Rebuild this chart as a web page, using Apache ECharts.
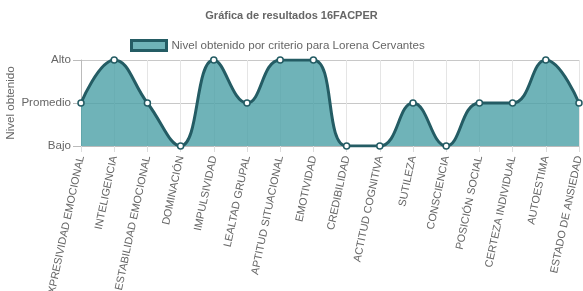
<!DOCTYPE html>
<html><head><meta charset="utf-8">
<script src="https://cdn.jsdelivr.net/npm/echarts@6/dist/echarts.min.js"></script>
<style>html,body{margin:0;padding:0;background:#fff}#c{width:583px;height:291px}</style>
</head><body><div id="c"></div>
<script>
const categories = ["EXPRESIVIDAD EMOCIONAL","INTELIGENCIA","ESTABILIDAD EMOCIONAL","DOMINACIÓN","IMPULSIVIDAD","LEALTAD GRUPAL","APTITUD SITUACIONAL","EMOTIVIDAD","CREDIBILIDAD","ACTITUD COGNITIVA","SUTILEZA","CONSCIENCIA","POSICIÓN SOCIAL","CERTEZA INDIVIDUAL","AUTOESTIMA","ESTADO DE ANSIEDAD"];
const levels = [1,2,1,0,2,1,2,2,0,0,1,0,1,1,2,1];
const levelLabels = ["Bajo","Promedio","Alto"];
const FONT = "'Liberation Sans', Arial, sans-serif";
const chart = echarts.init(document.getElementById('c'));
chart.setOption({
  animation:false,
  title:{text:"Gráfica de resultados 16FACPER",left:'center',top:5,textStyle:{fontFamily:FONT,fontSize:11,fontWeight:'bold',color:'#666'}},
  legend:{top:39,left:130,padding:0,itemWidth:35,itemHeight:10,itemGap:6,
    textStyle:{fontFamily:FONT,fontSize:11.6,color:'#666'},
    icon:'rect',
    data:[{name:"Nivel obtenido por criterio para Lorena Cervantes",itemStyle:{color:'#6fb3b8',borderColor:'#245c64',borderWidth:3}}]},
  grid:{left:81,right:4,top:60,bottom:145,containLabel:false,outerBoundsMode:'none'},
  xAxis:{type:'category',data:categories,boundaryGap:false,
    axisLine:{lineStyle:{color:'#bbb'}},
    axisTick:{show:true,length:6,lineStyle:{color:'#ddd'}},
    splitLine:{show:true,lineStyle:{color:'#e5e5e5'}},
    axisLabel:{rotate:78,fontFamily:FONT,fontSize:10.8,color:'#666',interval:0,margin:10}},
  yAxis:{type:'value',min:0,max:2,interval:1,name:'Nivel obtenido',nameLocation:'middle',nameGap:64,nameRotate:90,nameMoveOverlap:false,
    nameTextStyle:{fontFamily:FONT,fontSize:11.6,color:'#666'},
    axisLine:{show:true,lineStyle:{color:'#bbb'}},
    axisTick:{show:true,length:8,lineStyle:{color:'#bbb'}},
    splitLine:{lineStyle:{color:'#c8c8c8'}},
    axisLabel:{fontFamily:FONT,fontSize:11.6,color:'#666',margin:10,formatter:v=>levelLabels[v]}},
  series:[{name:"Nivel obtenido por criterio para Lorena Cervantes",type:'line',data:levels,smooth:0.45,
    symbol:'circle',symbolSize:6,
    itemStyle:{color:'#fff',borderColor:'#245c64',borderWidth:1.5},
    lineStyle:{color:'#245c64',width:3},
    areaStyle:{color:'rgba(75,160,166,0.8)',opacity:1}}]
});
</script></body></html>
